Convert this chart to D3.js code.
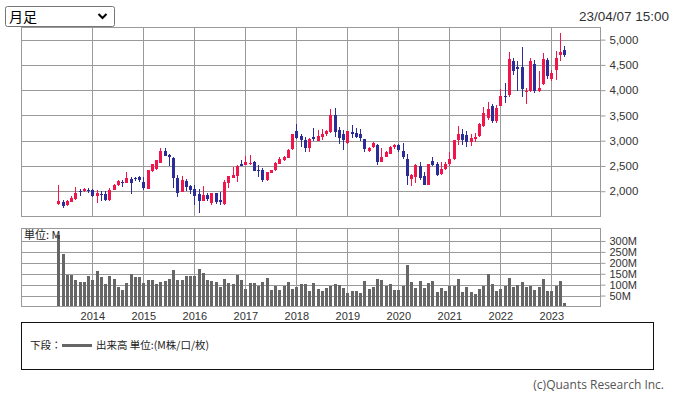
<!DOCTYPE html>
<html lang="ja">
<head>
<meta charset="UTF-8">
<title>月足チャート</title>
<style>
  html, body { margin: 0; padding: 0; background: #fff; }
  svg { display: block; font-family: "Liberation Sans", Arial, "Noto Sans CJK JP", sans-serif; }
</style>
</head>
<body>
<svg id="svg" width="675" height="397"></svg>
<script src="https://d3js.org/d3.v7.min.js"></script>
<script>
// monthly bars, May 2013 - Apr 2023
const months = [
  "2013-05","2013-06","2013-07","2013-08","2013-09","2013-10","2013-11","2013-12",
  "2014-01","2014-02","2014-03","2014-04","2014-05","2014-06","2014-07","2014-08","2014-09","2014-10","2014-11","2014-12",
  "2015-01","2015-02","2015-03","2015-04","2015-05","2015-06","2015-07","2015-08","2015-09","2015-10","2015-11","2015-12",
  "2016-01","2016-02","2016-03","2016-04","2016-05","2016-06","2016-07","2016-08","2016-09","2016-10","2016-11","2016-12",
  "2017-01","2017-02","2017-03","2017-04","2017-05","2017-06","2017-07","2017-08","2017-09","2017-10","2017-11","2017-12",
  "2018-01","2018-02","2018-03","2018-04","2018-05","2018-06","2018-07","2018-08","2018-09","2018-10","2018-11","2018-12",
  "2019-01","2019-02","2019-03","2019-04","2019-05","2019-06","2019-07","2019-08","2019-09","2019-10","2019-11","2019-12",
  "2020-01","2020-02","2020-03","2020-04","2020-05","2020-06","2020-07","2020-08","2020-09","2020-10","2020-11","2020-12",
  "2021-01","2021-02","2021-03","2021-04","2021-05","2021-06","2021-07","2021-08","2021-09","2021-10","2021-11","2021-12",
  "2022-01","2022-02","2022-03","2022-04","2022-05","2022-06","2022-07","2022-08","2022-09","2022-10","2022-11","2022-12",
  "2023-01","2023-02","2023-03","2023-04"
];
const open = [
  1744,1778,1724,1784,1837,2010,2010,2030,
  2030,1903,1950,1942,1817,2022,2115,2190,2168,2240,2260,2274,
  2188,2050,2400,2432,2558,2790,2716,2664,2268,1982,2194,2095,
  2036,1950,1804,1917,1764,1963,1817,1738,2161,2260,2300,2531,
  2518,2540,2577,2412,2413,2214,2367,2413,2545,2611,2657,2830,
  3186,3087,3008,2855,3067,2994,3074,3133,3173,3504,3206,3127,
  2954,3167,3153,3133,3028,2796,2869,2909,2577,2676,2744,2875,
  2909,2790,2645,2248,2280,2506,2294,2129,2591,2545,2347,2446,
  2532,2631,3008,3140,3107,2975,3034,3087,3285,3450,3682,3390,
  3696,3887,3907,4582,4456,4456,3954,3974,4522,3987,4125,4595,
  4224,4403,4688,4787
];
const high = [
  2115,1817,1817,1897,2075,2050,2060,2055,
  2045,2016,2000,1995,2060,2150,2220,2215,2373,2280,2290,2300,
  2280,2420,2535,2615,2850,2850,2744,2676,2313,2300,2248,2130,
  2130,2050,2100,1960,1970,1970,1980,2214,2307,2478,2512,2625,
  2704,2710,2590,2512,2450,2385,2430,2580,2670,2700,2830,3140,
  3325,3140,3080,3050,3246,3206,3225,3215,3623,3643,3272,3206,
  3200,3305,3250,3230,3040,2880,2975,2929,2855,2800,2895,2930,
  2930,2960,2744,2347,2545,2577,2380,2545,2676,2580,2570,2570,
  2770,3010,3300,3240,3193,3127,3150,3350,3668,3762,3730,3700,
  4020,4139,4754,4635,4582,4853,4040,4640,4600,4370,4734,4635,
  4390,4767,5131,4873
];
const low = [
  1730,1665,1710,1780,1830,1897,1985,1960,
  1895,1764,1800,1800,1810,2016,2110,2085,2160,1950,2200,2190,
  2030,2040,2390,2420,2550,2690,2506,2060,1883,1975,2000,1955,
  1732,1573,1800,1800,1735,1750,1735,1718,2061,2255,2181,2490,
  2510,2515,2395,2280,2190,2210,2360,2400,2535,2590,2650,2823,
  3040,2875,2776,2776,3000,2990,3020,3100,3160,3074,2942,2810,
  2942,3060,3050,2990,2776,2780,2860,2512,2570,2670,2730,2840,
  2776,2640,2129,2100,2170,2228,2129,2125,2505,2310,2330,2430,
  2500,2620,2910,2910,2875,2900,2980,3080,3270,3410,3350,3360,
  3680,3742,3855,4303,3974,3861,3728,3960,3950,3960,4110,4225,
  4180,4204,4569,4648
];
const close = [
  1798,1704,1798,1857,1956,1982,2042,2010,
  1903,1963,1935,1831,2016,2115,2200,2175,2260,2160,2240,2220,
  2070,2413,2531,2611,2790,2704,2676,2268,1962,2228,2082,2016,
  1903,1804,1917,1851,1963,1784,1784,2174,2294,2313,2498,2498,
  2577,2555,2399,2392,2214,2373,2419,2557,2631,2670,2823,3127,
  3054,3008,2855,3041,3034,3087,3133,3193,3504,3173,3054,3008,
  3193,3140,3074,3054,2836,2850,2954,2577,2676,2776,2875,2909,
  2810,2680,2300,2327,2525,2268,2129,2532,2512,2313,2446,2545,
  2645,3008,3140,3021,2975,3054,3074,3325,3550,3623,3390,3656,
  3880,3867,4615,4383,4422,4026,3974,4582,3974,4040,4615,4272,
  4337,4635,4754,4701
];
// volume, millions
const volume = [
  327,240,145,145,122,113,113,140,
  122,163,136,104,140,126,90,76,108,148,136,136,
  108,122,122,104,113,117,126,168,122,122,140,140,
  140,172,154,122,117,113,90,126,108,104,145,122,
  81,108,108,95,113,131,76,95,76,95,113,81,
  90,104,104,72,108,81,72,85,95,104,99,85,
  63,72,72,63,117,81,87,126,122,95,104,76,
  76,95,190,113,85,117,85,108,117,67,85,72,
  95,95,126,67,90,67,58,81,95,149,104,72,
  81,95,131,90,99,113,90,95,76,90,126,72,
  72,95,117,17
];
const years = [2014,2015,2016,2017,2018,2019,2020,2021,2022,2023];
const priceTicks = [2000,2500,3000,3500,4000,4500,5000];
const volTicks = [50,100,150,200,250,300];

const data = months.map((m, i) => ({
  t: +m.slice(0, 4) + (+m.slice(5) - 1) / 12,
  o: open[i], h: high[i], l: low[i], c: close[i], v: volume[i]
}));

const left = 21, right = 600.5;
const top1 = 27.5, bot1 = 216.5;
const top2 = 228.5, bot2 = 306.5;
const red = "#f0154a", blue = "#2c2c98", grid = "#9a9a9a";

const svg = d3.select("#svg");

const x = d3.scaleLinear().domain([2014, 2023]).range([92.3, 551.3]);
const y = d3.scaleLinear().domain([1500, 5240]).range([bot1, top1]);
const yv = d3.scaleLinear().domain([0, 357]).range([bot2, top2]);

// ---- header
svg.append("rect")
  .attr("x", 5.5).attr("y", 6.5).attr("width", 109).attr("height", 20)
  .attr("rx", 2).attr("fill", "#fff").attr("stroke", "#767676");
svg.append("text").attr("x", 9).attr("y", 22)
  .style("font-size", "14px").style("font-family", "'Noto Sans CJK JP', sans-serif")
  .text("月足");
svg.append("path").attr("d", "M98.5,14 L102.5,18 L106.5,14")
  .attr("fill", "none").attr("stroke", "#000").attr("stroke-width", 2);
svg.append("text").attr("x", 669).attr("y", 21).attr("text-anchor", "end")
  .style("font-size", "13.5px").attr("fill", "#333").text("23/04/07 15:00");

// ---- price panel
const g1 = svg.append("g").attr("shape-rendering", "crispEdges");
g1.selectAll(".hg").data(priceTicks).join("line")
  .attr("x1", left).attr("x2", right)
  .attr("y1", d => Math.round(y(d)) + 0.5).attr("y2", d => Math.round(y(d)) + 0.5)
  .attr("stroke", grid);
g1.selectAll(".vg").data(years).join("line")
  .attr("x1", d => Math.round(x(d)) + 0.5).attr("x2", d => Math.round(x(d)) + 0.5)
  .attr("y1", top1).attr("y2", bot1).attr("stroke", grid);
g1.append("rect").attr("x", left + 0.5).attr("y", top1).attr("width", right - left - 0.5)
  .attr("height", bot1 - top1).attr("fill", "none").attr("stroke", grid);

const candles = svg.append("g").attr("shape-rendering", "crispEdges");
candles.selectAll(".wick").data(data).join("line")
  .attr("x1", d => Math.round(x(d.t)) + 0.5).attr("x2", d => Math.round(x(d.t)) + 0.5)
  .attr("y1", d => y(d.h)).attr("y2", d => y(d.l))
  .attr("stroke", d => d.c >= d.o ? red : blue).attr("stroke-width", 1);
candles.selectAll(".body").data(data).join("rect")
  .attr("x", d => Math.round(x(d.t)) - 1)
  .attr("width", 3)
  .attr("y", d => y(Math.max(d.o, d.c)))
  .attr("height", d => Math.max(1, Math.abs(y(d.o) - y(d.c))))
  .attr("fill", d => d.c >= d.o ? red : blue);

const ax1 = svg.append("g").attr("transform", `translate(${right},0)`)
  .call(d3.axisRight(y).tickValues(priceTicks).tickSize(5).tickPadding(4).tickFormat(d3.format(",")));
ax1.select(".domain").remove();
ax1.selectAll("line").attr("stroke", grid);
ax1.selectAll("text").style("font-size", "11.5px").attr("fill", "#333")
  .style("font-family", "'Liberation Sans', Arial, sans-serif");

// ---- volume panel
const g2 = svg.append("g").attr("shape-rendering", "crispEdges");
g2.selectAll(".hg").data(volTicks).join("line")
  .attr("x1", left).attr("x2", right)
  .attr("y1", d => Math.round(yv(d)) + 0.5).attr("y2", d => Math.round(yv(d)) + 0.5)
  .attr("stroke", grid);
g2.selectAll(".vg").data(years).join("line")
  .attr("x1", d => Math.round(x(d)) + 0.5).attr("x2", d => Math.round(x(d)) + 0.5)
  .attr("y1", top2).attr("y2", bot2).attr("stroke", grid);

svg.append("g").attr("shape-rendering", "crispEdges")
  .selectAll("rect").data(data).join("rect")
  .attr("x", d => Math.round(x(d.t)) - 1)
  .attr("width", 3)
  .attr("y", d => yv(d.v))
  .attr("height", d => bot2 - yv(d.v))
  .attr("fill", "#666");

svg.append("rect").attr("x", left + 0.5).attr("y", top2).attr("width", right - left - 0.5)
  .attr("height", bot2 - top2).attr("fill", "none").attr("stroke", grid)
  .attr("shape-rendering", "crispEdges");

svg.append("text").attr("x", 24).attr("y", 239)
  .style("font-size", "11px").style("font-family", "'Noto Sans CJK JP', sans-serif")
  .attr("fill", "#222").text("単位: M");

const ax2 = svg.append("g").attr("transform", `translate(${right},0)`)
  .call(d3.axisRight(yv).tickValues(volTicks).tickSize(5).tickPadding(4).tickFormat(d => d + "M"));
ax2.select(".domain").remove();
ax2.selectAll("line").attr("stroke", grid);
ax2.selectAll("text").style("font-size", "11px").attr("fill", "#333")
  .style("font-family", "'Liberation Sans', Arial, sans-serif");

const ax3 = svg.append("g").attr("transform", `translate(0,${bot2 + 2})`)
  .call(d3.axisBottom(x).tickValues(years).tickSize(0).tickPadding(4).tickFormat(d3.format("d")));
ax3.select(".domain").remove();
ax3.selectAll("text").style("font-size", "11px").attr("fill", "#333")
  .style("font-family", "'Liberation Sans', Arial, sans-serif");

// ---- legend
svg.append("rect").attr("x", 21.5).attr("y", 322.5).attr("width", 632).attr("height", 47)
  .attr("fill", "none").attr("stroke", "#111").attr("shape-rendering", "crispEdges");
svg.append("text").attr("x", 30).attr("y", 349)
  .style("font-size", "10.5px").style("font-family", "'Noto Sans CJK JP', sans-serif")
  .attr("fill", "#222").text("下段：");
svg.append("line").attr("x1", 62).attr("x2", 92).attr("y1", 345.5).attr("y2", 345.5)
  .attr("stroke", "#666").attr("stroke-width", 3);
svg.append("text").attr("x", 96).attr("y", 349)
  .style("font-size", "10.5px").style("font-family", "'Noto Sans CJK JP', sans-serif")
  .attr("fill", "#222").text("出来高 単位:(M株/口/枚)");

svg.append("text").attr("x", 664).attr("y", 389).attr("text-anchor", "end")
  .style("font-size", "12px").style("font-family", "'Open Sans', sans-serif")
  .attr("fill", "#555").text("(c)Quants Research Inc.");
</script>
</body>
</html>
